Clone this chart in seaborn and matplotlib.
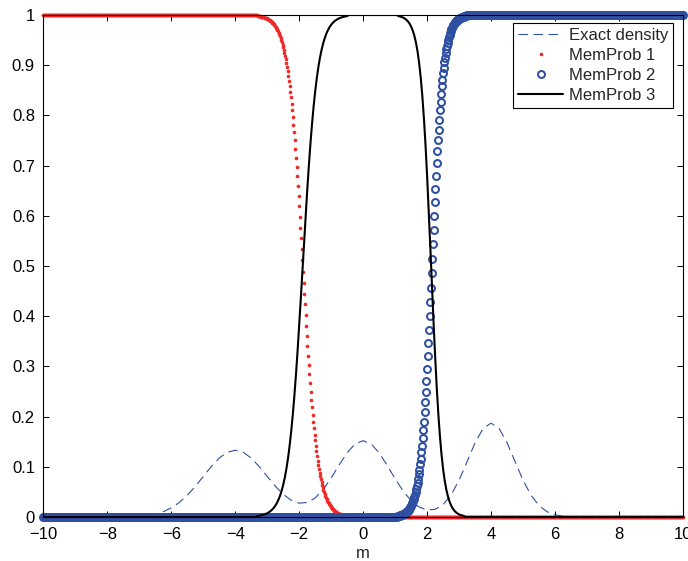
import numpy as np
import matplotlib
matplotlib.use("Agg")
import matplotlib.pyplot as plt
import seaborn as sns

# ---------------- data ----------------
# Exact density, on a 0.25 grid from -10 to 10
dens_head = [0.0] * 10  # x = -10 .. -7.75
dens_mid = [
    0.0003, 0.0007, 0.0015, 0.0030, 0.0058, 0.0106, 0.0180, 0.0288, 0.0432, 0.0609,
    0.0807, 0.1004, 0.1174, 0.1289, 0.1330, 0.1289, 0.1174, 0.1005, 0.0810, 0.0617,
    0.0452, 0.0334, 0.0275, 0.0289, 0.0378, 0.0546, 0.0776, 0.1037, 0.1281, 0.1456,
    0.1520, 0.1456, 0.1278, 0.1030, 0.0761, 0.0518, 0.0325, 0.0199, 0.0139, 0.0152,
    0.0246, 0.0440, 0.0735, 0.1104, 0.1479, 0.1764, 0.1870, 0.1764, 0.1479, 0.1103,
    0.0732, 0.0432, 0.0226, 0.0106, 0.0044, 0.0016, 0.0005, 0.0002,
]  # x = -7.5 .. 6.75
dens_tail = [0.0] * 13  # x = 7 .. 10
density = dens_head + dens_mid + dens_tail
x_density = np.linspace(-10, 10, 81)

# MemProb 1 (red dots), 0.02 grid
mem1_trans = [
    0.9980, 0.9978, 0.9976, 0.9974, 0.9971, 0.9969, 0.9966, 0.9963, 0.9959, 0.9956,
    0.9951, 0.9947, 0.9942, 0.9937, 0.9931, 0.9925, 0.9918, 0.9911, 0.9902, 0.9894,
    0.9884, 0.9873, 0.9862, 0.9849, 0.9836, 0.9821, 0.9805, 0.9787, 0.9768, 0.9747,
    0.9725, 0.9700, 0.9673, 0.9644, 0.9613, 0.9579, 0.9542, 0.9502, 0.9458, 0.9411,
    0.9361, 0.9306, 0.9247, 0.9183, 0.9115, 0.9041, 0.8962, 0.8878, 0.8787, 0.8690,
    0.8586, 0.8476, 0.8359, 0.8235, 0.8103, 0.7964, 0.7818, 0.7664, 0.7503, 0.7334,
    0.7159, 0.6976, 0.6787, 0.6593, 0.6392, 0.6187, 0.5977, 0.5764, 0.5548, 0.5329,
    0.5110,
    0.4890, 0.4671, 0.4452, 0.4236, 0.4023, 0.3813, 0.3608, 0.3407, 0.3213, 0.3024,
    0.2841, 0.2666, 0.2497, 0.2336, 0.2182, 0.2036, 0.1897, 0.1765, 0.1641, 0.1524,
    0.1414, 0.1310, 0.1213, 0.1122, 0.1038, 0.0959, 0.0885, 0.0817, 0.0753, 0.0694,
    0.0639, 0.0589, 0.0542, 0.0498, 0.0458, 0.0421, 0.0387, 0.0356, 0.0327, 0.0300,
    0.0275, 0.0253, 0.0232, 0.0213, 0.0195, 0.0179, 0.0164, 0.0151, 0.0138, 0.0127,
    0.0116, 0.0106, 0.0098, 0.0089, 0.0082, 0.0075, 0.0069, 0.0063, 0.0058, 0.0053,
    0.0049, 0.0044, 0.0041, 0.0037, 0.0034, 0.0031, 0.0029, 0.0026, 0.0024, 0.0022,
]  # x = -3.30 .. -0.50
mem1 = [1.0] * 335 + mem1_trans + [0.0] * 525

# MemProb 2 (blue circles), 0.02 grid
mem2_trans = [
    0.0020, 0.0023, 0.0025, 0.0028, 0.0032, 0.0036, 0.0040, 0.0045, 0.0051, 0.0057,
    0.0064, 0.0072, 0.0080, 0.0090, 0.0101, 0.0114, 0.0127, 0.0143, 0.0160, 0.0180,
    0.0201, 0.0225, 0.0252, 0.0282, 0.0316, 0.0354, 0.0395, 0.0442, 0.0494, 0.0551,
    0.0615, 0.0685, 0.0763, 0.0849, 0.0943, 0.1047, 0.1161, 0.1285, 0.1421, 0.1568,
    0.1728, 0.1900, 0.2085, 0.2283, 0.2494, 0.2717, 0.2953, 0.3199, 0.3457, 0.3724,
    0.3999, 0.4280, 0.4566, 0.4855,
    0.5145, 0.5434, 0.5720, 0.6001, 0.6276, 0.6543, 0.6801, 0.7047, 0.7283, 0.7506,
    0.7717, 0.7915, 0.8100, 0.8272, 0.8432, 0.8579, 0.8715, 0.8839, 0.8953, 0.9057,
    0.9151, 0.9237, 0.9315, 0.9385, 0.9449, 0.9506, 0.9558, 0.9605, 0.9646, 0.9684,
    0.9718, 0.9748, 0.9775, 0.9799, 0.9820, 0.9840, 0.9857, 0.9873, 0.9886, 0.9899,
    0.9910, 0.9920, 0.9928, 0.9936, 0.9943, 0.9949, 0.9955, 0.9960, 0.9964, 0.9968,
    0.9972, 0.9975, 0.9977, 0.9980,
]  # x = 1.08 .. 3.22
mem2 = [0.0] * 554 + mem2_trans + [1.0] * 339
x_fine = np.linspace(-10, 10, 1001)

# MemProb 3 (black line), 0.05 grid
mem3_left = [
    0.0020, 0.0025, 0.0031, 0.0039, 0.0049, 0.0060, 0.0075, 0.0093, 0.0116, 0.0144,
    0.0179, 0.0222, 0.0275, 0.0341, 0.0421, 0.0519, 0.0639, 0.0784, 0.0959, 0.1167,
    0.1414, 0.1702, 0.2036, 0.2416, 0.2841, 0.3309, 0.3813, 0.4344, 0.4890, 0.5439,
    0.5977, 0.6493, 0.6976, 0.7420, 0.7818, 0.8170, 0.8476, 0.8739, 0.8962, 0.9150,
    0.9306, 0.9436, 0.9542, 0.9629, 0.9700, 0.9758, 0.9805, 0.9843, 0.9874, 0.9898,
    0.9918, 0.9934, 0.9947, 0.9957, 0.9966, 0.9972, 0.9978,
]  # x = -3.30 .. -0.50
mem3_right = [
    0.9979, 0.9971, 0.9961, 0.9948, 0.9930, 0.9905, 0.9873, 0.9829, 0.9770, 0.9692,
    0.9589, 0.9453, 0.9276, 0.9047, 0.8755, 0.8389, 0.7941, 0.7408, 0.6792, 0.6106,
    0.5374,
    0.4626, 0.3894, 0.3208, 0.2592, 0.2059, 0.1611, 0.1245, 0.0953, 0.0724, 0.0547,
    0.0411, 0.0308, 0.0230, 0.0171, 0.0127, 0.0095, 0.0070, 0.0052, 0.0039, 0.0029,
    0.0021,
]  # x = 1.10 .. 3.15
mem3 = [0.0] * 134 + mem3_left + [1.0] * 31 + mem3_right + [0.0] * 137
x_coarse = np.linspace(-10, 10, 401)

x_ticks = [-10, -8, -6, -4, -2, 0, 2, 4, 6, 8, 10]
y_ticks = [0, 0.1, 0.2, 0.3, 0.4, 0.5, 0.6, 0.7, 0.8, 0.9, 1]
y_tick_labels = ["0", "0.1", "0.2", "0.3", "0.4", "0.5", "0.6", "0.7", "0.8", "0.9", "1"]
labels = ["Exact density", "MemProb 1", "MemProb 2", "MemProb 3"]

# ---------------- styling ----------------
sns.set_theme(style="ticks")
plt.rcParams["font.family"] = ["Liberation Sans", "DejaVu Sans"]
plt.rcParams["axes.unicode_minus"] = True

BLUE = "#2F4FA0"
RED = "#F02828"
FS = 12

fig = plt.figure(figsize=(6.88, 5.61), dpi=100)
ax = fig.add_axes([43.3 / 688, 1 - 517 / 561, (683 - 43.3) / 688, (517 - 15) / 561])

sns.lineplot(x=x_density, y=density, ax=ax, estimator=None, color=BLUE,
             linewidth=0.8, linestyle=(0, (8.5, 5)), label=labels[0])
sns.lineplot(x=x_fine, y=mem1, ax=ax, estimator=None, color=RED, linestyle="none",
             marker="o", markersize=2.6, markeredgewidth=0, markerfacecolor=RED,
             markeredgecolor=RED, label=labels[1], clip_on=False)
sns.lineplot(x=x_fine, y=mem2, ax=ax, estimator=None, color=BLUE, linestyle="none",
             marker="o", markersize=5.0, markeredgewidth=1.45, markerfacecolor="none",
             markeredgecolor=BLUE, label=labels[2], clip_on=False)
sns.lineplot(x=x_coarse, y=mem3, ax=ax, estimator=None, color="black",
             linewidth=1.5, label=labels[3])

ax.set_xlim(-10, 10)
ax.set_ylim(0, 1)
ax.set_xticks(x_ticks)
ax.set_yticks(y_ticks)
ax.set_yticklabels(y_tick_labels)
ax.set_xlabel("m", fontsize=FS, labelpad=3)
ax.set_ylabel("")
for s in ax.spines.values():
    s.set_visible(True)
    s.set_linewidth(0.8)
    s.set_color("black")
ax.tick_params(direction="in", length=4, width=0.7, top=True, right=True,
               labelsize=FS, colors="black")
ax.tick_params(axis="x", pad=7)
ax.tick_params(axis="y", pad=6)

leg = ax.legend(loc="upper right", bbox_to_anchor=(673.3 / 688, 1 - 22.7 / 561),
                bbox_transform=fig.transFigure, borderaxespad=0, frameon=True,
                fancybox=False, edgecolor="black", framealpha=1, fontsize=FS,
                handlelength=2.7, handletextpad=0.35, labelspacing=0.3,
                borderpad=0.3, numpoints=1)
leg.get_frame().set_linewidth(0.8)

fig.savefig("out.png", dpi=100)
